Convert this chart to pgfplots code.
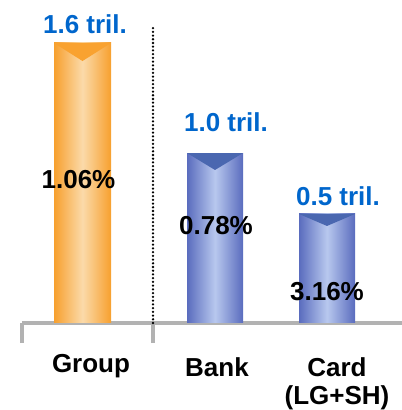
\documentclass[border=0pt]{standalone}
\usepackage{pgfplots}
\pgfplotsset{compat=1.18}
\usepackage{fontspec}
\setmainfont{Liberation Sans}
\definecolor{orEdge}{RGB}{247,160,46}
\definecolor{orMid}{RGB}{251,218,170}
\definecolor{orTop}{RGB}{249,162,48}
\definecolor{blEdge}{RGB}{90,108,190}
\definecolor{blMid}{RGB}{184,200,238}
\definecolor{blTop}{RGB}{74,103,176}
\definecolor{axgray}{RGB}{178,178,178}
\definecolor{lblue}{RGB}{0,102,204}
\newcommand{\lab}{\fontsize{19.5}{22.5}\selectfont\bfseries}
\begin{document}
\begin{tikzpicture}
\useasboundingbox (0pt,0pt) rectangle (301.5pt,307.5pt);
\begin{axis}[
  at={(16.5pt,65.25pt)}, anchor=south west,
  scale only axis, width=285pt, height=242.25pt,
  xmin=22, xmax=402, ymin=0, ymax=1.8457,
  clip=false,
  axis x line=bottom, axis y line=none,
  axis line style={draw=axgray, line width=2.5pt, -},
  xtick={22,153}, xticklabels={},
  tick align=outside, major tick length=15pt,
  xtick style={draw=axgray, line width=2.5pt},
  ytick=\empty,
]
% bars
\addplot[ybar, bar width=57, bar shift=0pt, draw=none,
  left color=orEdge, right color=orEdge, middle color=orMid] coordinates {(82.5,1.6)};
\addplot[ybar, bar width=56, bar shift=0pt, draw=none,
  left color=blEdge, right color=blEdge, middle color=blMid] coordinates {(215,0.9714)};
\addplot[ybar, bar width=56, bar shift=0pt, draw=none,
  left color=blEdge, right color=blEdge, middle color=blMid] coordinates {(327,0.6229)};
% top chevrons
\addplot[fill=orTop, draw=none] coordinates {(54,1.6) (111,1.6) (82.5,1.497)};
\addplot[fill=blTop, draw=none] coordinates {(187,0.9714) (243,0.9714) (215,0.8743)};
\addplot[fill=blTop, draw=none] coordinates {(299,0.6229) (355,0.6229) (327,0.5543)};
% dotted separator
\addplot[black, line width=1.9pt, dash pattern=on 0pt off 2.8pt, line cap=round] coordinates {(153,0) (153,1.703)};
% value labels
\node[anchor=base, text=lblue, font=\lab] at (axis cs:85,1.657) {1.6 tril.};
\node[anchor=base, text=lblue, font=\lab] at (axis cs:226,1.097) {1.0 tril.};
\node[anchor=base, text=lblue, font=\lab] at (axis cs:338,0.674) {0.5 tril.};
\node[anchor=base, font=\lab] at (axis cs:78.5,0.771) {1.06\%};
\node[anchor=base, font=\lab] at (axis cs:216,0.503) {0.78\%};
\node[anchor=base, font=\lab] at (axis cs:327,0.131) {3.16\%};
% category labels
\node[anchor=base, font=\lab] at (axis cs:91,-0.2857) {Group};
\node[anchor=base, font=\lab] at (axis cs:217,-0.3029) {Bank};
\node[anchor=base, font=\lab] at (axis cs:337,-0.3029) {Card};
\node[anchor=base, font=\lab] at (axis cs:337,-0.4629) {(LG+SH)};
\end{axis}
\end{tikzpicture}
\end{document}
